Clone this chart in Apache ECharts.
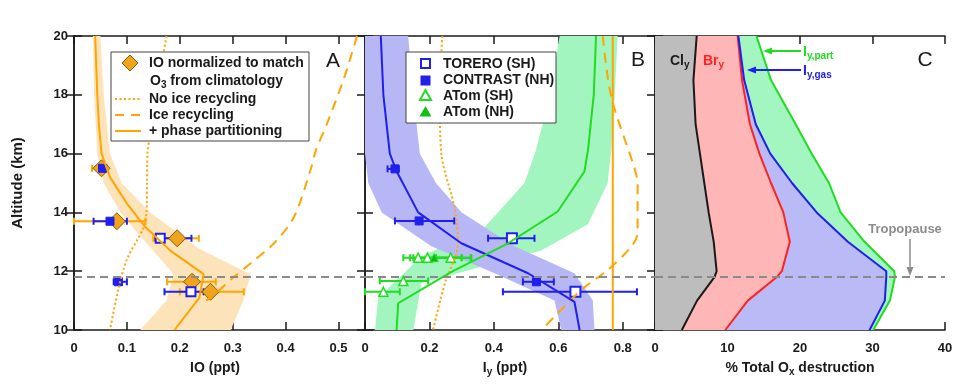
<!DOCTYPE html>
<html><head><meta charset="utf-8">
<script src="https://cdn.jsdelivr.net/npm/echarts@6/dist/echarts.min.js"></script>
<style>html,body{margin:0;padding:0;background:#fff}#c{width:975px;height:386px}</style>
</head><body><div id="c"></div>
<script>
// ---------------- data ----------------
const TROPOPAUSE_ALT = 11.8;
// Panel A (IO, ppt)
const A_SOLID_ALT = [20,18,17,16,15.2,14.3,13.5,12.7,11.9,11.1,10];
const A_SOLID_IO  = [0.04,0.044,0.047,0.052,0.068,0.1,0.135,0.182,0.245,0.237,0.19];
const A_BAND_ALT  = [20,18,16,15,14,13.2,12.8,11.9,11,10];
const A_BAND_LO   = [0.036,0.038,0.044,0.056,0.088,0.125,0.145,0.188,0.175,0.125];
const A_BAND_HI   = [0.05,0.056,0.068,0.09,0.144,0.205,0.233,0.334,0.32,0.296];
const A_DOT_ALT   = [20,19,18,17,16,15,14,13.5,12.4,11.4,10];
const A_DOT_IO    = [0.175,0.165,0.157,0.147,0.139,0.138,0.137,0.132,0.1,0.084,0.068];
const A_DASH_ALT  = [20,18.6,17.1,16.1,15.5,13.85,12.95,12.3,11.8,11.3,11.0];
const A_DASH_IO   = [0.535,0.511,0.48,0.457,0.448,0.416,0.378,0.336,0.302,0.271,0.25];
// [value, altitude, low, high]
const A_DIAMONDS  = [[0.052,15.5,0.034,0.062],[0.081,13.7,0.0,0.135],[0.195,13.12,0.15,0.236],[0.223,11.64,0.176,0.268],[0.258,11.3,0.2,0.321]];
const A_CONTRAST  = [[0.054,15.5,0.045,0.062],[0.068,13.7,0.037,0.1],[0.084,11.64,0.075,0.1]];
const A_TORERO    = [[0.163,13.12,0.154,0.222],[0.221,11.3,0.171,0.245]];
// Panel B (Iy, ppt)
const B_BLUE_ALT  = [20,18,16,15.4,14,12.95,11.93,10.96,10];
const B_BLUE_IY   = [0.049,0.057,0.077,0.098,0.165,0.299,0.506,0.65,0.666];
const B_BLUEBAND_ALT = [20,18,16,15,14,12.85,11.93,11.0,10];
const B_BLUEBAND_LO  = [0,0,0,0.01,0.052,0.206,0.402,0.588,0.609];
const B_BLUEBAND_HI  = [0.134,0.15,0.17,0.22,0.30,0.464,0.65,0.707,0.712];
const B_GREEN_ALT = [20,18,16.12,15.39,14.03,12.95,11.98,10.91,10];
const B_GREEN_IY  = [0.717,0.71,0.692,0.681,0.598,0.444,0.268,0.103,0.098];
const B_GREENBAND_LO_ALT = [20,18,16.1,15,13.5,12.5,11.1,10];
const B_GREENBAND_LO     = [0.604,0.575,0.53,0.495,0.372,0.175,0.041,0.031];
const B_GREENBAND_HI_ALT = [20,18,16.1,15,13.6,12.7,12.15,11.6,10];
const B_GREENBAND_HI     = [0.784,0.775,0.764,0.753,0.692,0.547,0.361,0.175,0.15];
const B_ORANGE_SOLID = 0.769;
const B_DOT_ALT  = [20,18,16,14.1,12.95,11.6,10];
const B_DOT_IY   = [0.24,0.232,0.237,0.279,0.289,0.248,0.211];
const B_DASH_ALT = [20,17.94,15.55,14.99,13.3,12.83,12.04,11.36,10.1];
const B_DASH_IY  = [0.738,0.764,0.835,0.846,0.846,0.826,0.753,0.671,0.557];
const B_CONTRAST = [[0.093,15.48,0.07,0.105],[0.168,13.71,0.093,0.277],[0.532,11.64,0.49,0.586]];
const B_TORERO   = [[0.456,13.12,0.382,0.526],[0.653,11.3,0.428,0.844]];
const B_ATOM_SH  = [[0.057,11.3,0.0,0.108],[0.119,11.67,0.046,0.196],[0.165,12.46,0.119,0.30],[0.194,12.46,0.14,0.33],[0.266,12.46,0.22,0.328]];
const B_ATOM_NH  = [[0.215,12.46,0.15,0.30]];
// Panel C (% total Ox destruction)
const C_ALT   = [20,18.5,17,16,15,14,13,12,11.8,11,10];
const C_CLY   = [5.75,5.3,5.6,6.2,6.8,7.4,8.1,8.5,8.2,5.8,3.7];
const C_BRY   = [11.4,12.0,13.1,14.4,16.0,17.7,18.6,17.5,16.8,12.8,9.7];
const C_IGAS  = [11.5,12.3,13.9,15.9,18.9,22.3,26.6,31.9,31.9,31.7,29.6];
const C_IPART = [14.0,16.0,19.4,21.6,24.0,25.6,28.9,33.0,33.1,32.4,30.1];
const C_ZERO  = [0,0,0,0,0,0,0,0,0,0,0];

// ---------------- styles ----------------
const FONT = '"Liberation Sans", Arial, Helvetica, sans-serif';
const ORANGE = '#ffa400', BLUE = '#1f1fee', GREEN = '#1fdd1f', RED = '#ff2222', INK = '#1a1a1a';
const GRIDS = [{left:74,width:291},{left:365,width:290},{left:655,width:290}];
const XR = [{max:0.55,interval:0.1,hideMax:true},{max:0.9,interval:0.2,hideMax:true},{max:40,interval:10,hideMax:false}];

function pts(xs, alts){ return xs.map((x,i)=>[x, alts[i]]); }

function polySeries(g, edge1, edge2, color){
  const data = edge1.concat(edge2.slice().reverse());
  return {type:'custom', xAxisIndex:g*2, yAxisIndex:g*2, data, silent:true, clip:true,
    encode:{x:0,y:1},
    renderItem(params, api){
      if (params.dataIndex !== 0) return null;
      return {type:'polygon', shape:{points:data.map(d=>api.coord(d))}, style:{fill:color}};
    }};
}
function lineSeries(g, data, color, width, type, smooth){
  return {type:'line', xAxisIndex:g*2, yAxisIndex:g*2, data, symbol:'none', showSymbol:false,
    silent:true, smooth: smooth||false, clip:true,
    lineStyle:{color, width, type: type||'solid'}};
}
function errSeries(g, data, color){
  return {type:'custom', xAxisIndex:g*2, yAxisIndex:g*2, silent:true, data,
    encode:{x:[0,2,3], y:1},
    renderItem(params, api){
      const y = api.value(1);
      const a = api.coord([api.value(2), y]), b = api.coord([api.value(3), y]);
      const h = 3.5, st = {stroke:color, lineWidth:2};
      return {type:'group', children:[
        {type:'line', shape:{x1:a[0],y1:a[1],x2:b[0],y2:b[1]}, style:st},
        {type:'line', shape:{x1:a[0],y1:a[1]-h,x2:a[0],y2:a[1]+h}, style:st},
        {type:'line', shape:{x1:b[0],y1:b[1]-h,x2:b[0],y2:b[1]+h}, style:st}]};
    }};
}
function scatterSeries(g, data, symbol, size, fill, stroke, bw){
  return {type:'scatter', xAxisIndex:g*2, yAxisIndex:g*2, silent:true,
    data: data.map(d=>[d[0], d[1]]), symbol, symbolSize:size,
    itemStyle:{color:fill, borderColor:stroke, borderWidth:bw, opacity:1}};
}
function tropo(g){
  return lineSeries(g, [[0,TROPOPAUSE_ALT],[XR[g].max,TROPOPAUSE_ALT]], '#8a8a8a', 2, [8,5]);
}

const grid = GRIDS.map(g=>({left:g.left, width:g.width, top:36, height:294, show:false}));
const axLine = {show:true, lineStyle:{color:INK, width:1.5}};
const axTick = {show:true, inside:true, length:8, lineStyle:{color:INK, width:1.5}};
const labelStyle = {fontFamily:FONT, fontWeight:'bold', fontSize:13, color:INK};
const xAxis = [], yAxis = [];
GRIDS.forEach((g,i)=>{
  const r = XR[i];
  xAxis.push({type:'value', gridIndex:i, position:'bottom', min:0, max:r.max, interval:r.interval,
    axisLine:axLine, axisTick:axTick, splitLine:{show:false},
    axisLabel:Object.assign({margin:12, showMaxLabel: !r.hideMax,
      formatter: v => String(Math.round(v*10)/10)}, labelStyle)});
  xAxis.push({type:'value', gridIndex:i, position:'top', min:0, max:r.max, interval:r.interval,
    axisLine:axLine, axisTick:axTick, splitLine:{show:false}, axisLabel:{show:false}});
  yAxis.push({type:'value', gridIndex:i, position:'left', min:10, max:20, interval:2,
    axisLine:axLine, axisTick:axTick, splitLine:{show:false},
    axisLabel: i===0 ? Object.assign({margin:6}, labelStyle) : {show:false}});
  yAxis.push({type:'value', gridIndex:i, position:'right', min:10, max:20, interval:2,
    axisLine:axLine, axisTick:axTick, splitLine:{show:false}, axisLabel:{show:false}});
});

const series = [
  // Panel A
  polySeries(0, pts(A_BAND_LO, A_BAND_ALT), pts(A_BAND_HI, A_BAND_ALT), '#fde3b9'),
  lineSeries(0, pts(A_DOT_IO, A_DOT_ALT), ORANGE, 2, [2,2.5], 0.3),
  lineSeries(0, pts(A_DASH_IO, A_DASH_ALT), ORANGE, 2, [10,7], 0.3),
  lineSeries(0, pts(A_SOLID_IO, A_SOLID_ALT), ORANGE, 2),
  tropo(0),
  errSeries(0, A_DIAMONDS, ORANGE),
  scatterSeries(0, A_DIAMONDS, 'diamond', 17, '#f2a31c', '#7d5e12', 1),
  errSeries(0, A_CONTRAST, BLUE),
  errSeries(0, A_TORERO, BLUE),
  scatterSeries(0, A_CONTRAST, 'rect', 8, BLUE, BLUE, 1),
  scatterSeries(0, A_TORERO, 'rect', 9, '#ffffff', BLUE, 2),
  // Panel B
  polySeries(1, pts(B_GREENBAND_LO, B_GREENBAND_LO_ALT), pts(B_GREENBAND_HI, B_GREENBAND_HI_ALT), '#a3f5bf'),
  polySeries(1, pts(B_BLUEBAND_LO, B_BLUEBAND_ALT), pts(B_BLUEBAND_HI, B_BLUEBAND_ALT), '#b7b7f6'),
  lineSeries(1, pts(B_DOT_IY, B_DOT_ALT), ORANGE, 2, [2,2.5], 0.3),
  lineSeries(1, pts(B_DASH_IY, B_DASH_ALT), ORANGE, 2, [10,7], 0.3),
  lineSeries(1, [[B_ORANGE_SOLID,10],[B_ORANGE_SOLID,20]], ORANGE, 2),
  lineSeries(1, pts(B_BLUE_IY, B_BLUE_ALT), BLUE, 2),
  lineSeries(1, pts(B_GREEN_IY, B_GREEN_ALT), GREEN, 2),
  tropo(1),
  errSeries(1, B_ATOM_SH, GREEN),
  errSeries(1, B_ATOM_NH, GREEN),
  scatterSeries(1, B_ATOM_SH, 'triangle', 9, '#ffffff', GREEN, 1.5),
  scatterSeries(1, B_ATOM_NH, 'triangle', 8, '#12b812', GREEN, 1),
  errSeries(1, B_CONTRAST, BLUE),
  errSeries(1, B_TORERO, BLUE),
  scatterSeries(1, B_CONTRAST, 'rect', 8, BLUE, BLUE, 1),
  scatterSeries(1, B_TORERO, 'rect', 10, '#ffffff', BLUE, 2),
  // Panel C
  polySeries(2, pts(C_ZERO, C_ALT), pts(C_CLY, C_ALT), '#bdbdbd'),
  polySeries(2, pts(C_CLY, C_ALT), pts(C_BRY, C_ALT), '#ffb6b6'),
  polySeries(2, pts(C_BRY, C_ALT), pts(C_IGAS, C_ALT), '#babaf7'),
  polySeries(2, pts(C_IGAS, C_ALT), pts(C_IPART, C_ALT), '#a3f6c0'),
  lineSeries(2, pts(C_CLY, C_ALT), INK, 2),
  lineSeries(2, pts(C_BRY, C_ALT), RED, 2),
  lineSeries(2, pts(C_IGAS, C_ALT), BLUE, 2),
  lineSeries(2, pts(C_IPART, C_ALT), GREEN, 2),
  tropo(2)
];

// ---------------- text / legends ----------------
function txt(x, y, text, opt){
  opt = opt || {};
  return {type:'text', x, y, z:100, rotation: opt.rot||0, silent:true,
    style:{text, fill: opt.color||INK,
      font: (opt.weight||'bold')+' '+(opt.size||14)+'px '+FONT,
      textAlign: opt.align||'left', textVerticalAlign:'middle', verticalAlign:'middle',
      rich: opt.rich}};
}
function subRich(color, size){
  size = size || 14;
  return {m:{fontFamily:FONT, fontWeight:'bold', fontSize:size, fill:color, lineHeight:size+4},
          s:{fontFamily:FONT, fontWeight:'bold', fontSize:Math.round(size*0.7), fill:color, lineHeight:10, verticalAlign:'bottom'}};
}
function arrowLeft(x1, x0, y, color){
  return [
    {type:'line', z:100, silent:true, shape:{x1:x1, y1:y, x2:x0+6, y2:y}, style:{stroke:color, lineWidth:2}},
    {type:'polygon', z:100, silent:true, shape:{points:[[x0,y],[x0+9,y-3.5],[x0+9,y+3.5]]}, style:{fill:color}}];
}

const graphic = [
  // Legend A
  {type:'rect', z:50, silent:true, shape:{x:111, y:52, width:198, height:89}, style:{fill:'#fff', stroke:'#444', lineWidth:1}},
  {type:'polygon', z:100, silent:true, shape:{points:[[130,55],[138,63],[130,71],[122,63]]}, style:{fill:'#f2a31c', stroke:'#7d5e12', lineWidth:1}},
  txt(149, 63, 'IO normalized to match'),
  txt(150, 81, '{m|O}{s|3}{m| from climatology}', {rich:subRich(INK)}),
  {type:'line', z:100, silent:true, shape:{x1:115,y1:99,x2:141,y2:99}, style:{stroke:ORANGE, lineWidth:2, lineDash:[2,2.5]}},
  txt(149, 99, 'No ice recycling'),
  {type:'line', z:100, silent:true, shape:{x1:115,y1:115,x2:141,y2:115}, style:{stroke:ORANGE, lineWidth:2, lineDash:[9,7]}},
  txt(149, 115, 'Ice recycling'),
  {type:'line', z:100, silent:true, shape:{x1:115,y1:131,x2:141,y2:131}, style:{stroke:ORANGE, lineWidth:2}},
  txt(149, 131, '+ phase partitioning'),
  // Legend B
  {type:'rect', z:50, silent:true, shape:{x:406, y:52, width:150, height:71}, style:{fill:'#fff', stroke:'#444', lineWidth:1}},
  {type:'rect', z:100, silent:true, shape:{x:421, y:59, width:9, height:9}, style:{fill:'#fff', stroke:BLUE, lineWidth:2}},
  txt(443, 64, 'TORERO (SH)'),
  {type:'rect', z:100, silent:true, shape:{x:420.5, y:75.5, width:10, height:10}, style:{fill:BLUE}},
  txt(443, 80, 'CONTRAST (NH)'),
  {type:'polygon', z:100, silent:true, shape:{points:[[425.5,90],[431,100],[420,100]]}, style:{fill:'#fff', stroke:GREEN, lineWidth:2}},
  txt(443, 96, 'ATom (SH)'),
  {type:'polygon', z:100, silent:true, shape:{points:[[425.5,106],[431.5,116.5],[419.5,116.5]]}, style:{fill:'#12c012'}},
  txt(443, 112, 'ATom (NH)'),
  // Panel letters
  txt(333, 61, 'A', {weight:'normal', size:21, align:'center'}),
  txt(638, 60, 'B', {weight:'normal', size:21, align:'center'}),
  txt(925, 60, 'C', {weight:'normal', size:21, align:'center'}),
  // Panel C annotations
  txt(670, 61, '{m|Cl}{s|y}', {rich:subRich(INK)}),
  txt(703, 61, '{m|Br}{s|y}', {rich:subRich(RED)}),
  txt(803, 52, '{m|I}{s|y,part}', {rich:subRich(GREEN)}),
  txt(803, 71, '{m|I}{s|y,gas}', {rich:subRich(BLUE)}),
  ...arrowLeft(801, 763, 51, GREEN),
  ...arrowLeft(801, 747, 70, BLUE),
  txt(905, 229, 'Tropopause', {color:'#8c8c8c', size:13, align:'center'}),
  {type:'line', z:100, silent:true, shape:{x1:910, y1:239, x2:910, y2:268}, style:{stroke:'#8c8c8c', lineWidth:1.5}},
  {type:'polygon', z:100, silent:true, shape:{points:[[910,276],[906.5,267],[913.5,267]]}, style:{fill:'#8c8c8c'}},
  // Axis titles
  txt(18, 183, 'Altitude (km)', {align:'center', size:15, rot:Math.PI/2}),
  txt(215, 368, 'IO (ppt)', {align:'center'}),
  txt(505, 368, '{m|I}{s|y}{m| (ppt)}', {align:'center', rich:subRich(INK)}),
  txt(800, 368, '{m|% Total O}{s|x}{m| destruction}', {align:'center', rich:subRich(INK)})
];

const chart = echarts.init(document.getElementById('c'), null, {renderer:'canvas'});
chart.setOption({animation:false, backgroundColor:'#fff', grid, xAxis, yAxis, series, graphic});
</script>
</body></html>
